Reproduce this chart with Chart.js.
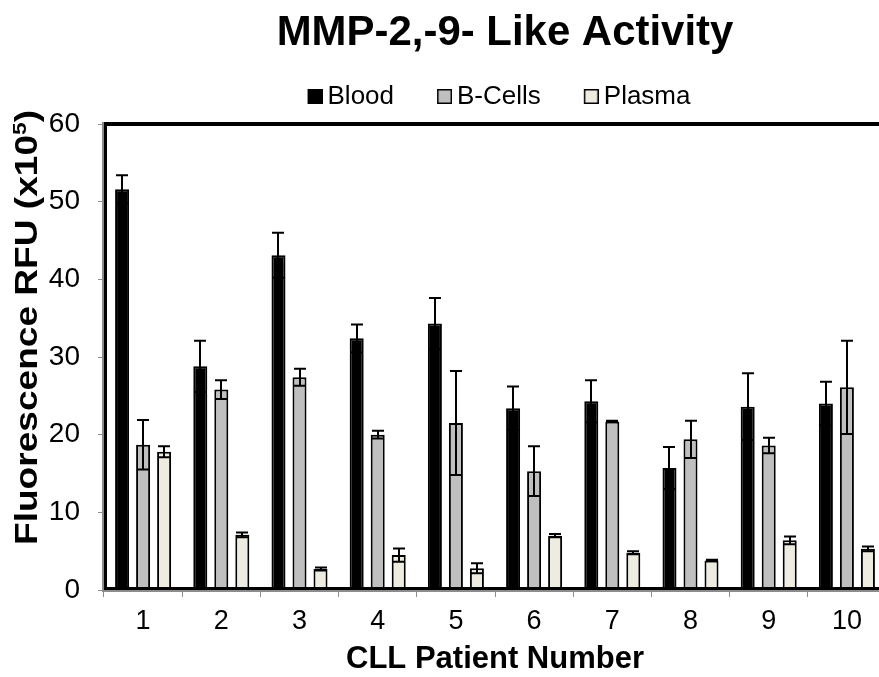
<!DOCTYPE html>
<html>
<head>
<meta charset="utf-8">
<script src="https://cdn.jsdelivr.net/npm/chart.js@4.4.1/dist/chart.umd.min.js"></script>
<style>
  html, body { margin: 0; padding: 0; overflow: hidden; background: #fff; width: 879px; height: 677px; }
  canvas { display: block; }
</style>
</head>
<body>
<canvas id="chart" width="890" height="677"></canvas>
<script>
// Patient numbers on the x axis
const categories = ['1', '2', '3', '4', '5', '6', '7', '8', '9', '10'];

// Mean fluorescence (RFU x10^5) and error per sample type
const blood     = [51.6, 28.8, 43.1, 32.4, 34.3, 23.4, 24.3, 15.7, 23.6, 24.0];
const bloodErr  = [1.8, 3.3, 2.9, 1.8, 3.3, 2.8, 2.7, 2.7, 4.3, 2.8];
const bcells    = [18.7, 25.8, 27.4, 20.0, 21.5, 15.3, 21.7, 19.4, 18.6, 26.1];
const bcellsErr = [3.2, 1.2, 1.1, 0.5, 6.7, 3.2, 0.1, 2.4, 1.0, 6.0];
const plasma    = [17.8, 7.1, 2.7, 4.5, 2.8, 7.0, 4.8, 3.8, 6.4, 5.3];
const plasmaErr = [0.7, 0.3, 0.2, 0.85, 0.65, 0.2, 0.2, 0.1, 0.5, 0.3];

const yTicks = [0, 10, 20, 30, 40, 50, 60];

const FONT = "'Liberation Sans', Arial, Helvetica, sans-serif";
const AXIS_GREY = '#8c8c8c';
const COLORS = ['#000000', '#bfbfbf', '#eeece1'];

// Legend swatches: a square sitting at the right end of a wider transparent tile,
// so the square ends close to its label text
const swatches = COLORS.map((c, i) => {
  const cv = document.createElement('canvas');
  cv.width = 31;
  cv.height = 15;
  const g = cv.getContext('2d');
  g.fillStyle = c;
  g.fillRect(16, 0, 15, 15);
  if (i > 0) {
    g.strokeStyle = '#000';
    g.lineWidth = 1.5;
    g.strokeRect(16.75, 0.75, 13.5, 13.5);
  }
  return cv;
});

// Thick black plot frame with thin grey axis lines just outside it
const plotFrame = {
  id: 'plotFrame',
  afterDatasetsDraw(chart) {
    const { ctx, chartArea: a } = chart;
    ctx.save();
    ctx.fillStyle = '#000';
    ctx.fillRect(a.left, a.top - 2, a.right - a.left, 4);
    ctx.fillRect(a.left, a.top - 2, 3, a.bottom - a.top + 2);
    ctx.fillRect(a.left, a.bottom - 3, a.right - a.left, 3);
    ctx.fillRect(a.right - 3, a.top - 2, 3, a.bottom - a.top + 2);
    ctx.fillStyle = AXIS_GREY;
    ctx.fillRect(a.left - 2, a.top - 2, 2, a.bottom - a.top + 4);
    ctx.fillRect(a.left - 2, a.bottom, a.right - a.left + 2, 2);
    ctx.restore();
  }
};

// Symmetric error bars with caps, positioned from each bar element
const errorBars = {
  id: 'errorBars',
  afterDatasetsDraw(chart) {
    const { ctx } = chart;
    const y = chart.scales.y;
    ctx.save();
    ctx.strokeStyle = '#000';
    ctx.lineWidth = 2;
    chart.data.datasets.forEach((ds, i) => {
      const meta = chart.getDatasetMeta(i);
      meta.data.forEach((bar, j) => {
        const v = ds.data[j];
        const e = ds.errors[j];
        const yt = y.getPixelForValue(v + e);
        const yb = y.getPixelForValue(v - e);
        const x = Math.round(bar.x);
        ctx.beginPath();
        ctx.moveTo(x, yt); ctx.lineTo(x, yb);
        ctx.moveTo(x - 6, yt); ctx.lineTo(x + 6, yt);
        ctx.moveTo(x - 6, yb); ctx.lineTo(x + 6, yb);
        ctx.stroke();
      });
    });
    ctx.restore();
  }
};

// Chart title and rotated y-axis title (with superscript exponent)
const titles = {
  id: 'titles',
  afterDraw(chart) {
    const { ctx } = chart;
    ctx.save();
    ctx.fillStyle = '#000';
    ctx.textBaseline = 'alphabetic';

    ctx.save();
    ctx.translate(505, 45);
    ctx.scale(0.975, 1);
    ctx.font = 'bold 43px ' + FONT;
    ctx.textAlign = 'center';
    ctx.fillText('MMP-2,-9- Like Activity', 0, 0);
    ctx.restore();

    ctx.save();
    ctx.translate(37, 545);
    ctx.rotate(-Math.PI / 2);
    const main = 'Fluorescence RFU (x10';
    const fMain = 'bold 31px ' + FONT;
    const fSup = 'bold 19px ' + FONT;
    ctx.font = fMain;
    const w1 = ctx.measureText(main).width;
    const w3 = ctx.measureText(')').width;
    ctx.font = fSup;
    const w2 = ctx.measureText('5').width;
    ctx.scale(435 / (w1 + w2 + w3), 1);
    ctx.textAlign = 'left';
    ctx.font = fMain;
    ctx.fillText(main, 0, 0);
    ctx.font = fSup;
    ctx.fillText('5', w1, -11);
    ctx.font = fMain;
    ctx.fillText(')', w1 + w2, 0);
    ctx.restore();

    ctx.restore();
  }
};

const tickGrid = (len) => ({
  display: true,
  drawOnChartArea: false,
  drawTicks: true,
  tickLength: len,
  color: AXIS_GREY,
  lineWidth: 1
});

new Chart(document.getElementById('chart'), {
  type: 'bar',
  data: {
    labels: categories,
    datasets: [
      { label: 'Blood', data: blood, errors: bloodErr,
        backgroundColor: COLORS[0], borderColor: '#000000', borderWidth: 2 },
      { label: 'B-Cells', data: bcells, errors: bcellsErr,
        backgroundColor: COLORS[1], borderColor: '#000000', borderWidth: 2 },
      { label: 'Plasma', data: plasma, errors: plasmaErr,
        backgroundColor: COLORS[2], borderColor: '#000000', borderWidth: 2 }
    ]
  },
  options: {
    responsive: false,
    animation: false,
    events: [],
    devicePixelRatio: 1,
    layout: { padding: { top: 48.5, left: 0, right: 4, bottom: 0 } },
    datasets: {
      bar: { categoryPercentage: 0.806, barPercentage: 0.667 }
    },
    plugins: {
      tooltip: { enabled: false },
      title: { display: false },
      legend: {
        display: true,
        position: 'top',
        fullSize: false,
        labels: {
          color: '#000',
          font: { family: FONT, size: 26 },
          boxWidth: 15,
          boxHeight: 15,
          usePointStyle: true,
          pointStyleWidth: 15,
          padding: 35,
          generateLabels(chart) {
            const items = Chart.defaults.plugins.legend.labels.generateLabels(chart);
            items.forEach((it, i) => { it.pointStyle = swatches[i]; });
            return items;
          }
        }
      }
    },
    scales: {
      x: {
        type: 'category',
        position: 'bottom',
        grid: Object.assign(tickGrid(7), { offset: true }),
        border: { display: false },
        ticks: {
          color: '#000',
          font: { family: FONT, size: 27 },
          padding: 8,
          maxRotation: 0,
          autoSkip: false
        },
        title: {
          display: true,
          text: 'CLL Patient Number',
          color: '#000',
          font: { family: FONT, size: 31, weight: 'bold', lineHeight: 1 },
          padding: { top: 0, bottom: 2.5 }
        },
        afterFit(s) { s.height = 87; }
      },
      x2: {
        type: 'category',
        position: 'top',
        display: true,
        grid: { display: false },
        border: { display: false },
        ticks: { display: false },
        afterFit(s) { s.height = 4.5; }
      },
      y: {
        min: 0,
        max: 60,
        grid: tickGrid(6),
        border: { display: false },
        afterBuildTicks(s) { s.ticks = yTicks.map(v => ({ value: v })); },
        ticks: {
          color: '#000',
          font: { family: FONT, size: 28 },
          padding: 18
        },
        afterFit(s) { s.width = 104; }
      }
    }
  },
  plugins: [plotFrame, errorBars, titles]
});
</script>
</body>
</html>
